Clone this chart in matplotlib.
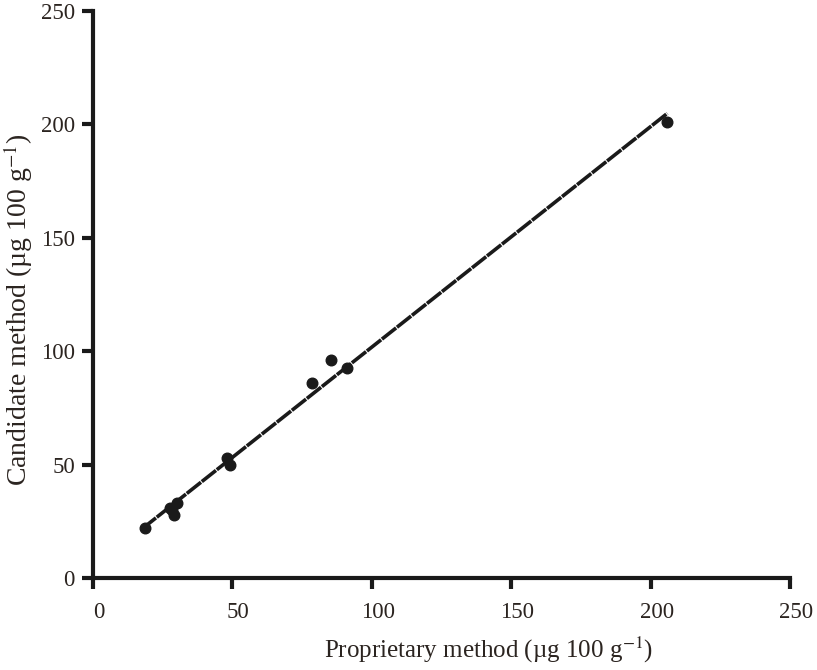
import numpy as np
import matplotlib.pyplot as plt
import matplotlib.transforms as mtransforms

plt.rcParams['font.family'] = ['Liberation Serif', 'DejaVu Serif']
plt.rcParams['mathtext.fontset'] = 'stix'

# Data (µg 100 g-1)
proprietary = [18.5, 27.5, 28.5, 29.0, 30.0, 48.0, 49.0, 78.5, 85.5, 91.0, 206.0]
candidate = [22.0, 31.0, 30.0, 28.0, 33.0, 53.0, 50.0, 86.0, 96.0, 92.5, 201.0]

x = np.array(proprietary)
y = np.array(candidate)
slope, intercept = np.polyfit(x, y, 1)
xl = np.array([x.min() - 1, x.max()])

text_col = '#2b2420'

fig = plt.figure(figsize=(8.17, 6.7), dpi=100)
ax = fig.add_axes([0.1138, 0.1373, 0.8532, 0.8463])

ax.plot(xl, slope * xl + intercept, color='#1a1a1a', lw=2.6, linestyle=(0, (5, 0.3)))
ax.scatter(x, y, s=58, color='#1a1a1a', zorder=3)

ax.set_xlim(0, 250)
ax.set_ylim(0, 250)
ax.set_xticks([0, 50, 100, 150, 200, 250])
ax.set_yticks([0, 50, 100, 150, 200, 250])

for side in ['top', 'right']:
    ax.spines[side].set_visible(False)
for side in ['left', 'bottom']:
    ax.spines[side].set_linewidth(3)
    ax.spines[side].set_color('#1a1a1a')

ax.tick_params(axis='both', direction='out', length=8, width=3, color='#1a1a1a',
               labelsize=16.5, labelcolor=text_col)
ax.tick_params(axis='x', pad=9)
ax.tick_params(axis='y', pad=5)

# labels in the reference sit slightly right of the x ticks
offset = mtransforms.ScaledTranslation(6 / 100, 0, fig.dpi_scale_trans)
for lbl in ax.get_xticklabels():
    lbl.set_transform(lbl.get_transform() + offset)

ax.set_xlabel('Proprietary method (µg 100 g$^{-1}$)', fontsize=18, color=text_col)
ax.set_ylabel('Candidate method (µg 100 g$^{-1}$)', fontsize=20, color=text_col)
ax.xaxis.set_label_coords(0.567, -0.1)
ax.yaxis.set_label_coords(-0.083, 0.474)

plt.savefig('out.png', dpi=100)
